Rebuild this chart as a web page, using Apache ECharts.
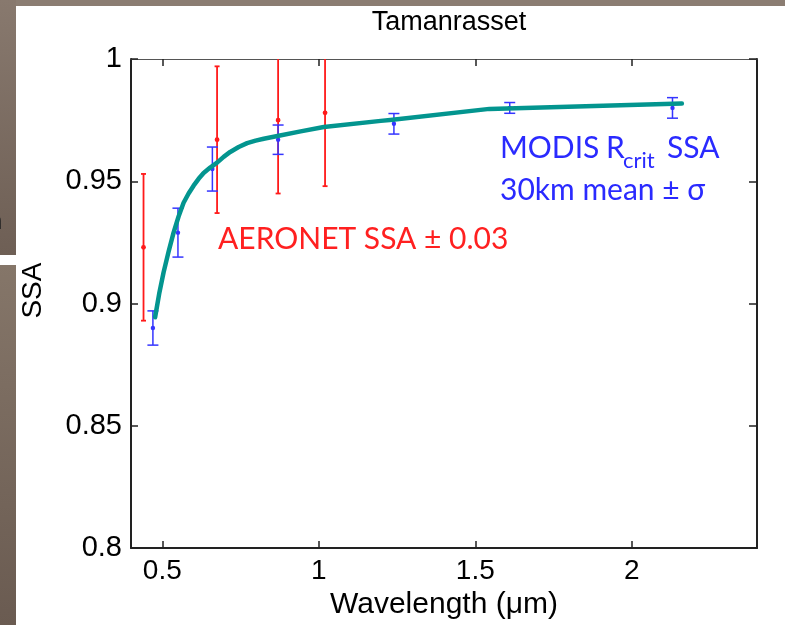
<!DOCTYPE html>
<html>
<head>
<meta charset="utf-8">
<script src="https://cdn.jsdelivr.net/npm/echarts@6/dist/echarts.min.js"></script>
<style>
  html, body { margin: 0; padding: 0; background: #ffffff; }
  #chart { width: 785px; height: 625px; }
</style>
</head>
<body>
<div id="chart"></div>
<script>
// ---- data ----
const xTicks = [0.5, 1, 1.5, 2];
const yTicks = [0.8, 0.85, 0.9, 0.95, 1];

const aeronetWavelength = [0.44, 0.675, 0.87, 1.02];
const aeronetSSA = [0.923, 0.967, 0.975, 0.978];
const aeronetError = [0.03, 0.03, 0.03, 0.03];

const modisWavelength = [0.47, 0.55, 0.66, 0.87, 1.24, 1.61, 2.13];
const modisSSA = [0.890, 0.929, 0.955, 0.967, 0.9735, 0.980, 0.980];
const modisSigma = [0.007, 0.010, 0.009, 0.006, 0.0042, 0.0022, 0.0042];

const fitWavelength = [0.477, 0.490, 0.504, 0.520, 0.536, 0.552, 0.568, 0.584, 0.600, 0.616, 0.632, 0.653, 0.675, 0.696, 0.717, 0.744, 0.771, 0.798, 0.824, 0.848, 0.872, 0.942, 1.016, 1.198, 1.236, 1.545, 2.16];
const fitSSA = [0.8944, 0.9040, 0.9127, 0.9212, 0.9290, 0.9356, 0.9412, 0.9450, 0.9482, 0.9510, 0.9534, 0.9556, 0.9576, 0.9600, 0.9620, 0.9640, 0.9656, 0.9666, 0.9674, 0.9680, 0.9686, 0.9704, 0.9722, 0.9747, 0.9752, 0.9796, 0.9818];

const titleText = 'Tamanrasset';
const xName = 'Wavelength (\u03bcm)';
const yName = 'SSA';

// ---- chart ----
const chart = echarts.init(document.getElementById('chart'), null, { renderer: 'canvas' });

function errorBarSeries(name, xs, ys, errs, color, capHalf, lineWidth, dotR) {
  return {
    name: name,
    type: 'custom',
    xAxisIndex: 0,
    yAxisIndex: 0,
    clip: true,
    data: xs.map((x, i) => [x, ys[i] - errs[i], ys[i] + errs[i], ys[i]]),
    encode: { x: 0, y: [1, 2, 3] },
    renderItem: function (params, api) {
      const x = api.value(0);
      const lo = api.coord([x, api.value(1)]);
      const hi = api.coord([x, api.value(2)]);
      const c = api.coord([x, api.value(3)]);
      const st = { stroke: color, lineWidth: lineWidth };
      return {
        type: 'group',
        children: [
          { type: 'line', shape: { x1: lo[0], y1: lo[1], x2: hi[0], y2: hi[1] }, style: st },
          { type: 'line', shape: { x1: hi[0] - capHalf, y1: hi[1], x2: hi[0] + capHalf, y2: hi[1] }, style: st },
          { type: 'line', shape: { x1: lo[0] - capHalf, y1: lo[1], x2: lo[0] + capHalf, y2: lo[1] }, style: st },
          { type: 'circle', shape: { cx: c[0], cy: c[1], r: dotR }, style: { fill: color } }
        ]
      };
    }
  };
}

const axisFont = 'Liberation Sans';

const option = {
  backgroundColor: '#ffffff',
  animation: false,
  title: {
    text: titleText,
    left: 444,
    top: 4,
    textAlign: 'center',
    textStyle: { fontFamily: axisFont, fontSize: 27, fontWeight: 'normal', color: '#000' }
  },
  grid: { left: 131, top: 59, right: 28, bottom: 75, containLabel: false },
  xAxis: [
    {
      type: 'value', min: 0.4, max: 2.4, position: 'bottom',
      name: xName, nameLocation: 'middle', nameGap: 26,
      nameTextStyle: { fontFamily: axisFont, fontSize: 30, color: '#000' },
      axisLine: { show: true, onZero: false, lineStyle: { color: '#222', width: 2 } },
      axisTick: { show: true, inside: true, length: 7, customValues: xTicks, lineStyle: { color: '#222', width: 1.5 } },
      axisLabel: { show: true, customValues: xTicks, margin: 9, fontFamily: axisFont, fontSize: 28, color: '#000' },
      splitLine: { show: false }
    },
    {
      type: 'value', min: 0.4, max: 2.4, position: 'top',
      axisLine: { show: true, onZero: false, lineStyle: { color: '#555', width: 1.2 } },
      axisTick: { show: true, inside: true, length: 7, customValues: xTicks, lineStyle: { color: '#222', width: 1.5 } },
      axisLabel: { show: false },
      splitLine: { show: false }
    }
  ],
  yAxis: [
    {
      type: 'value', min: 0.8, max: 1, interval: 0.05, position: 'left',
      name: yName, nameLocation: 'middle', nameGap: 84,
      nameTextStyle: { fontFamily: axisFont, fontSize: 28, color: '#000', padding: [0, 0, 0, 26] },
      axisLine: { show: true, onZero: false, lineStyle: { color: '#222', width: 2 } },
      axisTick: { show: true, inside: true, length: 7, lineStyle: { color: '#222', width: 1.5 } },
      axisLabel: { show: true, margin: 9, fontFamily: axisFont, fontSize: 29, color: '#000',
        customValues: yTicks },
      splitLine: { show: false }
    },
    {
      type: 'value', min: 0.8, max: 1, interval: 0.05, position: 'right',
      axisLine: { show: true, onZero: false, lineStyle: { color: '#222', width: 2 } },
      axisTick: { show: true, inside: true, length: 8, customValues: yTicks, lineStyle: { color: '#222', width: 1.5 } },
      axisLabel: { show: false },
      splitLine: { show: false }
    }
  ],
  series: [
    errorBarSeries('AERONET', aeronetWavelength, aeronetSSA, aeronetError, '#ff1a1a', 2.5, 1.8, 2.4),
    errorBarSeries('MODIS', modisWavelength, modisSSA, modisSigma, '#3535ff', 5.5, 1.5, 2.2),
    {
      name: 'Fit',
      type: 'line',
      xAxisIndex: 0,
      yAxisIndex: 0,
      data: fitWavelength.map((x, i) => [x, fitSSA[i]]),
      showSymbol: false,
      symbol: 'none',
      smooth: false,
      lineStyle: { color: '#03958f', width: 4.5, join: 'round', cap: 'round' },
      z: 5
    }
  ],
  graphic: [
    // slide background fragments around the figure panel
    { type: 'rect', z: -10, shape: { x: 0, y: 0, width: 785, height: 6 }, style: { fill: '#8b7d72' } },
    { type: 'rect', z: -10, shape: { x: 0, y: 0, width: 16, height: 255 },
      style: { fill: new echarts.graphic.LinearGradient(0, 0, 0, 1, [{ offset: 0, color: '#88796e' }, { offset: 1, color: '#6e5f55' }]) } },
    { type: 'rect', z: -10, shape: { x: 0, y: 265, width: 16, height: 360 },
      style: { fill: new echarts.graphic.LinearGradient(0, 0, 0, 1, [{ offset: 0, color: '#857669' }, { offset: 1, color: '#6a5b51' }]) } },
    { type: 'text', z: 10, x: -11, y: 210, style: { text: 'n', font: '24px Liberation Sans', fill: '#222' } },
    // annotations
    { type: 'text', z: 10, x: 218, y: 239, style: { text: 'AERONET SSA \u00b1 0.03', font: '30px Lato', fill: '#ff2020', verticalAlign: 'middle', align: 'left' } },
    { type: 'text', z: 10, x: 500, y: 148.5, style: { text: 'MODIS', font: '30px Lato', fill: '#2a2aff', verticalAlign: 'middle', align: 'left' } },
    { type: 'text', z: 10, x: 606, y: 148.5, style: { text: 'R', font: '30px Lato', fill: '#2a2aff', verticalAlign: 'middle', align: 'left' } },
    { type: 'text', z: 10, x: 623, y: 161, style: { text: 'crit', font: '22px Lato', fill: '#2a2aff', verticalAlign: 'middle', align: 'left' } },
    { type: 'text', z: 10, x: 667, y: 148.5, style: { text: 'SSA', font: '30px Lato', fill: '#2a2aff', verticalAlign: 'middle', align: 'left' } },
    { type: 'text', z: 10, x: 500, y: 190.5, style: { text: '30km mean \u00b1 \u03c3', font: '30px Lato', fill: '#2a2aff', verticalAlign: 'middle', align: 'left' } }
  ]
};

chart.setOption(option);
</script>
</body>
</html>
